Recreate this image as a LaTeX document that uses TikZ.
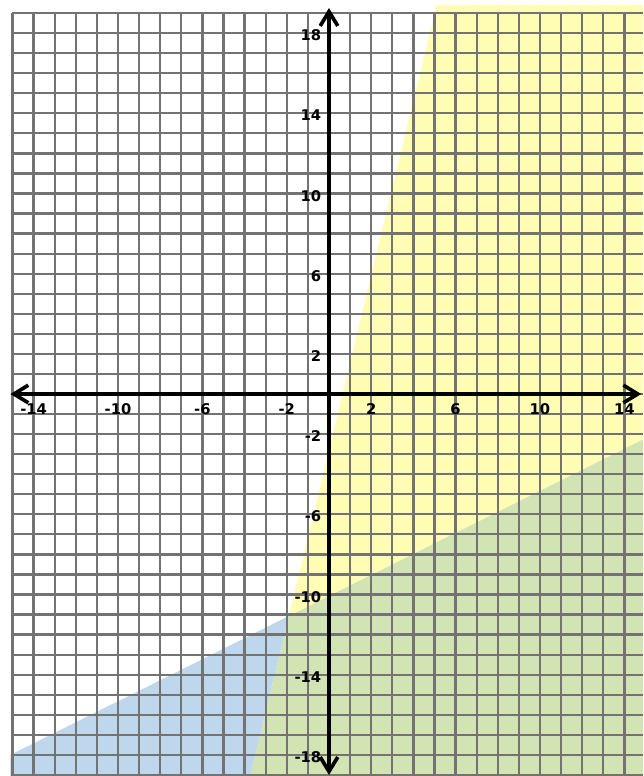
\documentclass[tikz,border=0pt]{standalone}
\usepackage{fontspec}
\setmainfont{DejaVu Sans}
\usetikzlibrary{arrows.meta,calc}

\definecolor{fillyellow}{RGB}{255,252,180}
\definecolor{fillblue}{RGB}{190,215,237}
\definecolor{fillgreen}{RGB}{210,227,180}

\begin{document}
\begin{tikzpicture}[%
    x=0.5275cm, y=0.50125cm,      % one grid square per unit
    >={Straight Barb[length=3.6mm,width=4.4mm]},
    ]
% -------------------------------------------------
% Styles
\tikzset{
  gridline/.style={draw=black!55, line width=1.6pt},
  axis/.style={<->, line width=2.6pt},
  xlab/.style={font=\bfseries\fontsize{10.5}{12}\selectfont, inner sep=0pt},
  ylab/.style={xlab, anchor=east},
  % shaded half planes
  yellowarea/.style={fill=fillyellow},
  greenarea/.style={fill=fillgreen},
  bluearea/.style={fill=fillblue},
}
\useasboundingbox (-15.592,-19.052) rectangle (14.882,19.651);

% -------------------------------------------------
% Boundary lines and corners of the shaded areas
\coordinate (a1) at (5.10,19.4);   % steep line, top end
\coordinate (a2) at (-3.74,-19.05); % steep line, bottom end
\coordinate (b1) at (-15.1,-18.0);  % flat line, left end
\coordinate (b2) at (14.882,-2.27); % flat line, right end
\coordinate (m) at (intersection of a1--a2 and b1--b2);
\coordinate (tr) at (14.882,19.4);
\coordinate (br) at (14.882,-19.052);
\coordinate (bl) at (-15.1,-19.052);

% Shading
\path[yellowarea] (a1) -- (tr) -- (b2) -- (m) -- cycle;
\path[greenarea] (m) -- (b2) -- (br) -- (a2) -- cycle;
\path[bluearea] (b1) -- (m) -- (a2) -- (bl) -- cycle;

% Grid
\foreach \i in {-15,...,14}
  \draw[gridline] (\i,-19.052) -- (\i,19);
\foreach \j in {-19,...,19}
  \draw[gridline] (-15,\j) -- (14.882,\j);

% Axes
\coordinate (xmin) at (-15.1,0);
\coordinate (xmax) at (14.8,0);
\coordinate (ymin) at (0,-19.0);
\coordinate (ymax) at (0,19.25);
\draw[axis] (xmin) -- (xmax);
\draw[axis] (ymin) -- (ymax);

% Tick labels
\foreach \v in {-14,-10,-6,-2,2,6,10,14}
  \node[xlab] (xl\v) at (\v,-0.75) {\v};
\foreach \v in {18,14,10,6,2,-2,-6,-10,-14,-18}
  \node[ylab] (yl\v) at (-0.355,\v-0.11) {\v};

\end{tikzpicture}
\end{document}
